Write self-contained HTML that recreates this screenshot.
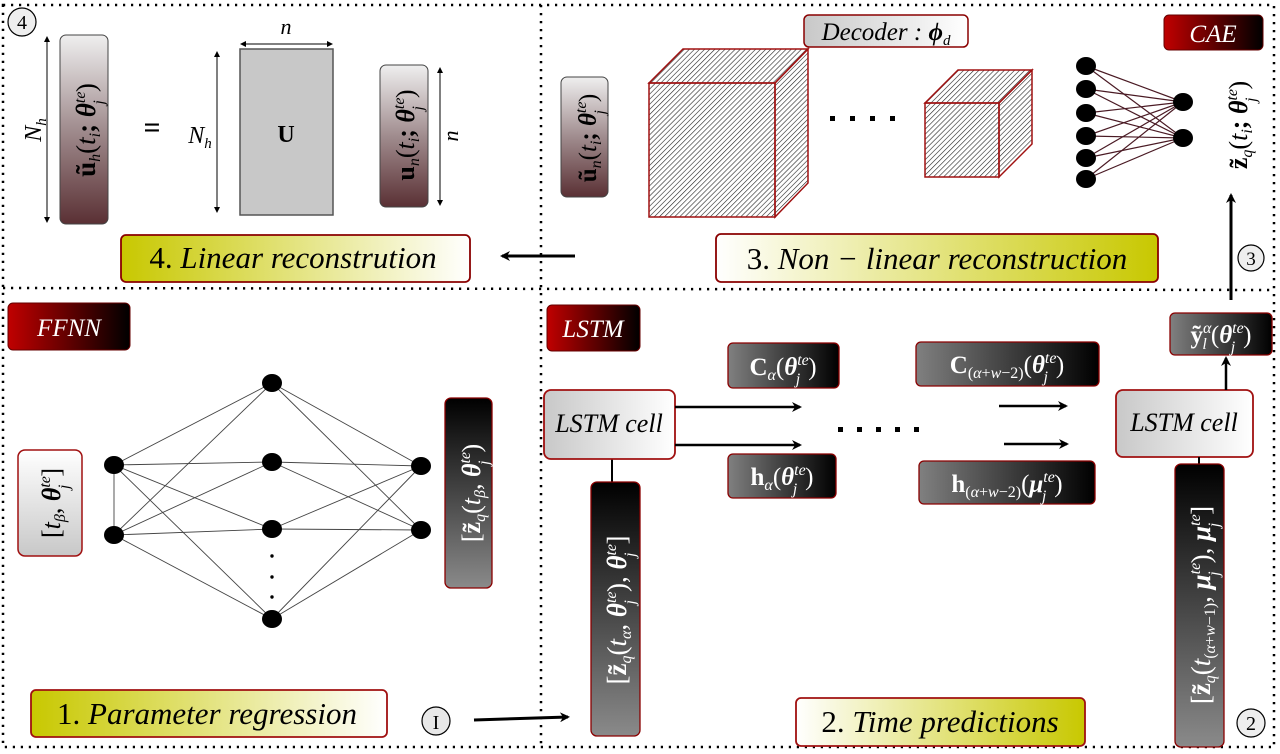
<!DOCTYPE html>
<html><head><meta charset="utf-8"><style>
html,body{margin:0;padding:0;background:#fff;}
svg{display:block;}
text{font-family:"Liberation Serif",serif;}
.it{font-style:italic;}
</style></head><body>
<svg width="1280" height="754" viewBox="0 0 1280 754" xmlns="http://www.w3.org/2000/svg">
<defs>
<linearGradient id="gb" x1="0" y1="0" x2="0" y2="1"><stop offset="0" stop-color="#efefef"/><stop offset="0.5" stop-color="#a08c8e"/><stop offset="1" stop-color="#5a3034"/></linearGradient>
<linearGradient id="dv" x1="0" y1="0" x2="0" y2="1"><stop offset="0" stop-color="#000"/><stop offset="1" stop-color="#8a8a8a"/></linearGradient>
<linearGradient id="dh" x1="0" y1="0" x2="1" y2="0"><stop offset="0" stop-color="#808080"/><stop offset="1" stop-color="#000"/></linearGradient>
<linearGradient id="rb" x1="0" y1="0" x2="1" y2="0"><stop offset="0" stop-color="#c00000"/><stop offset="1" stop-color="#000"/></linearGradient>
<linearGradient id="yw" x1="0" y1="0" x2="1" y2="0"><stop offset="0" stop-color="#c8c800"/><stop offset="1" stop-color="#fff"/></linearGradient>
<linearGradient id="wy" x1="0" y1="0" x2="1" y2="0"><stop offset="0" stop-color="#fff"/><stop offset="1" stop-color="#c8c800"/></linearGradient>
<linearGradient id="wg" x1="0" y1="0" x2="1" y2="0"><stop offset="0" stop-color="#c8c8c8"/><stop offset="1" stop-color="#fff"/></linearGradient>
<linearGradient id="wgv" x1="0" y1="0" x2="0" y2="1"><stop offset="0" stop-color="#fff"/><stop offset="1" stop-color="#c8c8c8"/></linearGradient>
<pattern id="hatch" width="3.6" height="3.6" patternUnits="userSpaceOnUse" patternTransform="rotate(45)"><line x1="0" y1="0" x2="0" y2="3.6" stroke="#222" stroke-width="1.2"/></pattern>
<marker id="ah" markerWidth="10" markerHeight="10" refX="8" refY="5" orient="auto" markerUnits="userSpaceOnUse"><path d="M0,0 L10,5 L0,10 L3,5 Z" fill="#000"/></marker>
<marker id="sa" markerWidth="6" markerHeight="6" refX="5" refY="3" orient="auto-start-reverse" markerUnits="userSpaceOnUse"><path d="M0,0 L6,3 L0,6 Z" fill="#000"/></marker>
</defs>

<!-- dotted panel borders -->
<g fill="none" stroke="#000" stroke-width="2.5" stroke-dasharray="2.2 5.8">
<rect x="3" y="5" width="1271" height="742"/>
<line x1="3" y1="288" x2="1274" y2="290"/>
<line x1="541" y1="5" x2="541" y2="747"/>
</g>

<!-- PANEL 4 -->
<circle cx="22" cy="22" r="14" fill="#eee" stroke="#000" stroke-width="1.2"/>
<text x="22" y="29" font-size="20" text-anchor="middle">4</text>
<line x1="47" y1="37" x2="47" y2="222" stroke="#000" marker-start="url(#sa)" marker-end="url(#sa)"/>
<text transform="translate(41,130) rotate(-90)" font-size="24" class="it" text-anchor="middle">N<tspan font-size="15" dy="5">h</tspan></text>
<rect x="60" y="35" width="48" height="189" rx="6" fill="url(#gb)" stroke="#444"/>
<text transform="translate(95,130) rotate(-90)" font-size="27" text-anchor="middle" font-weight="bold">ũ<tspan font-size="16" dy="5" font-weight="normal" class="it">h</tspan><tspan dy="-5" font-weight="normal">(</tspan><tspan class="it" font-weight="normal">t</tspan><tspan font-size="16" dy="5" font-weight="normal" class="it">i</tspan><tspan dy="-5">; </tspan><tspan class="it">θ</tspan><tspan font-size="16" dy="-10" class="it" font-weight="normal">te</tspan><tspan font-size="16" dx="-13" dy="19" class="it" font-weight="normal">j</tspan><tspan dy="-9" dx="8" font-weight="normal">)</tspan></text>
<text x="152" y="137" font-size="30" text-anchor="middle" font-weight="bold">=</text>
<text x="200" y="143" font-size="24" class="it" text-anchor="middle">N<tspan font-size="15" dy="5">h</tspan></text>
<line x1="217" y1="52" x2="217" y2="212" stroke="#000" marker-start="url(#sa)" marker-end="url(#sa)"/>
<rect x="240" y="49" width="93" height="166" fill="#c8c8c8" stroke="#555" stroke-width="1.5"/>
<text x="286" y="142" font-size="24" font-weight="bold" text-anchor="middle">U</text>
<line x1="241" y1="44" x2="332" y2="44" stroke="#000" marker-start="url(#sa)" marker-end="url(#sa)"/>
<text x="286" y="34" font-size="22" class="it" text-anchor="middle">n</text>
<rect x="380" y="65" width="48" height="142" rx="6" fill="url(#gb)" stroke="#444"/>
<text transform="translate(414,135) rotate(-90)" font-size="26" text-anchor="middle" font-weight="bold">u<tspan font-size="16" dy="5" font-weight="normal" class="it">n</tspan><tspan dy="-5" font-weight="normal">(</tspan><tspan class="it" font-weight="normal">t</tspan><tspan font-size="16" dy="5" font-weight="normal" class="it">i</tspan><tspan dy="-5">; </tspan><tspan class="it">θ</tspan><tspan font-size="16" dy="-10" class="it" font-weight="normal">te</tspan><tspan font-size="16" dx="-13" dy="19" class="it" font-weight="normal">j</tspan><tspan dy="-9" dx="8" font-weight="normal">)</tspan></text>
<line x1="440" y1="68" x2="440" y2="205" stroke="#000" marker-start="url(#sa)" marker-end="url(#sa)"/>
<text transform="translate(458,136) rotate(-90)" font-size="22" class="it" text-anchor="middle">n</text>
<rect x="121" y="235" width="349" height="47" rx="5" fill="url(#yw)" stroke="#8a0000" stroke-width="1.8"/>
<text x="293" y="268" font-size="31" text-anchor="middle">4. <tspan class="it">Linear reconstrution</tspan></text>
<line x1="575" y1="256" x2="502" y2="256" stroke="#000" stroke-width="3" marker-end="url(#ah)"/>

<!-- PANEL 3 -->
<rect x="561" y="77" width="47" height="120" rx="6" fill="url(#gb)" stroke="#444"/>
<text transform="translate(596,138) rotate(-90)" font-size="25" text-anchor="middle" font-weight="bold">ũ<tspan font-size="16" dy="5" font-weight="normal" class="it">n</tspan><tspan dy="-5" font-weight="normal">(</tspan><tspan class="it" font-weight="normal">t</tspan><tspan font-size="16" dy="5" font-weight="normal" class="it">i</tspan><tspan dy="-5">; </tspan><tspan class="it">θ</tspan><tspan font-size="16" dy="-10" class="it" font-weight="normal">te</tspan><tspan font-size="16" dx="-13" dy="19" class="it" font-weight="normal">j</tspan><tspan dy="-9" dx="8" font-weight="normal">)</tspan></text>
<rect x="804" y="15" width="164" height="32" rx="5" fill="url(#wg)" stroke="#8a0000" stroke-width="1.5"/>
<text x="886" y="40" font-size="25" text-anchor="middle" class="it">Decoder : <tspan font-weight="bold">ϕ</tspan><tspan font-size="15" dy="5">d</tspan></text>
<g fill="url(#hatch)" stroke="#a01010" stroke-width="1.5">
<polygon points="649,83 683,49 808,49 775,83"/>
<polygon points="775,83 808,49 808,183 775,217"/>
<rect x="649" y="83" width="126" height="134"/>
<polygon points="925,103 958,70 1032,70 999,103"/>
<polygon points="999,103 1032,70 1032,144 999,177"/>
<rect x="925" y="103" width="74" height="74"/>
</g>
<g fill="#000"><rect x="830" y="116" width="5" height="5"/><rect x="850" y="116" width="5" height="5"/><rect x="870" y="116" width="5" height="5"/><rect x="890" y="116" width="5" height="5"/></g>
<g stroke="#4a1a24" stroke-width="1.2">
<line x1="1086" y1="66" x2="1183" y2="102"/><line x1="1086" y1="66" x2="1183" y2="138"/>
<line x1="1086" y1="89" x2="1183" y2="102"/><line x1="1086" y1="89" x2="1183" y2="138"/>
<line x1="1086" y1="113" x2="1183" y2="102"/><line x1="1086" y1="113" x2="1183" y2="138"/>
<line x1="1086" y1="136" x2="1183" y2="102"/><line x1="1086" y1="136" x2="1183" y2="138"/>
<line x1="1086" y1="158" x2="1183" y2="102"/><line x1="1086" y1="158" x2="1183" y2="138"/>
<line x1="1086" y1="179" x2="1183" y2="102"/><line x1="1086" y1="179" x2="1183" y2="138"/>
</g>
<g fill="#000">
<ellipse cx="1086" cy="66" rx="10" ry="9"/><ellipse cx="1086" cy="89" rx="10" ry="9"/><ellipse cx="1086" cy="113" rx="10" ry="9"/>
<ellipse cx="1086" cy="136" rx="10" ry="9"/><ellipse cx="1086" cy="158" rx="10" ry="9"/><ellipse cx="1086" cy="179" rx="10" ry="9"/>
<ellipse cx="1183" cy="102" rx="10" ry="9"/><ellipse cx="1183" cy="138" rx="10" ry="9"/>
</g>
<rect x="1164" y="15" width="99" height="35" rx="5" fill="url(#rb)" stroke="#600"/>
<text x="1213" y="42" font-size="25" class="it" fill="#fff" text-anchor="middle">CAE</text>
<text transform="translate(1247,125) rotate(-90)" font-size="26" text-anchor="middle" font-weight="bold">z̃<tspan font-size="16" dy="5" font-weight="normal" class="it">q</tspan><tspan dy="-5" font-weight="normal">(</tspan><tspan class="it" font-weight="normal">t</tspan><tspan font-size="16" dy="5" font-weight="normal" class="it">i</tspan><tspan dy="-5">; </tspan><tspan class="it">θ</tspan><tspan font-size="16" dy="-10" class="it" font-weight="normal">te</tspan><tspan font-size="16" dx="-13" dy="19" class="it" font-weight="normal">j</tspan><tspan dy="-9" dx="8" font-weight="normal">)</tspan></text>
<line x1="1231" y1="300" x2="1231" y2="195" stroke="#000" stroke-width="3" marker-end="url(#ah)"/>
<circle cx="1251" cy="258" r="13" fill="#eee" stroke="#000" stroke-width="1.2"/>
<text x="1251" y="265" font-size="19" text-anchor="middle">3</text>
<rect x="716" y="234" width="442" height="48" rx="5" fill="url(#wy)" stroke="#8a0000" stroke-width="1.8"/>
<text x="937" y="269" font-size="31" text-anchor="middle">3. <tspan class="it">Non − linear reconstruction</tspan></text>

<!-- PANEL 1 FFNN -->
<rect x="8" y="303" width="122" height="47" rx="5" fill="url(#rb)" stroke="#600"/>
<text x="69" y="336" font-size="25" class="it" fill="#fff" text-anchor="middle">FFNN</text>
<rect x="18" y="450" width="64" height="106" rx="7" fill="url(#wgv)" stroke="#a01010" stroke-width="1.5"/>
<text transform="translate(60,503) rotate(-90)" font-size="26" text-anchor="middle">[<tspan class="it">t</tspan><tspan font-size="16" dy="5" class="it">β</tspan><tspan dy="-5">, </tspan><tspan class="it" font-weight="bold">θ</tspan><tspan font-size="16" dy="-10" class="it">te</tspan><tspan font-size="16" dx="-13" dy="19" class="it">j</tspan><tspan dy="-9" dx="8">]</tspan></text>
<g stroke="#444" stroke-width="0.9">
<line x1="114" y1="465" x2="114" y2="535"/>
<line x1="114" y1="465" x2="272" y2="383"/><line x1="114" y1="465" x2="272" y2="462"/><line x1="114" y1="465" x2="272" y2="529"/><line x1="114" y1="465" x2="272" y2="619"/>
<line x1="114" y1="535" x2="272" y2="383"/><line x1="114" y1="535" x2="272" y2="462"/><line x1="114" y1="535" x2="272" y2="529"/><line x1="114" y1="535" x2="272" y2="619"/>
<line x1="272" y1="383" x2="421" y2="466"/><line x1="272" y1="383" x2="421" y2="530"/>
<line x1="272" y1="462" x2="421" y2="466"/><line x1="272" y1="462" x2="421" y2="530"/>
<line x1="272" y1="529" x2="421" y2="466"/><line x1="272" y1="529" x2="421" y2="530"/>
<line x1="272" y1="619" x2="421" y2="466"/><line x1="272" y1="619" x2="421" y2="530"/>
</g>
<g fill="#000">
<ellipse cx="114" cy="465" rx="10" ry="9"/><ellipse cx="114" cy="535" rx="10" ry="9"/>
<ellipse cx="272" cy="383" rx="10" ry="9"/><ellipse cx="272" cy="462" rx="10" ry="9"/><ellipse cx="272" cy="529" rx="10" ry="9"/><ellipse cx="272" cy="619" rx="10" ry="9"/>
<ellipse cx="421" cy="466" rx="10" ry="9"/><ellipse cx="421" cy="530" rx="10" ry="9"/>
<circle cx="272" cy="556" r="1.7"/><circle cx="272" cy="577" r="1.7"/><circle cx="272" cy="597" r="1.7"/>
</g>
<rect x="445" y="398" width="47" height="190" rx="6" fill="url(#dv)" stroke="#8a0000" stroke-width="1.3"/>
<text transform="translate(480,493) rotate(-90)" font-size="26" text-anchor="middle" fill="#fff">[<tspan font-weight="bold">z̃</tspan><tspan font-size="16" dy="5" class="it">q</tspan><tspan dy="-5">(</tspan><tspan class="it">t</tspan><tspan font-size="16" dy="5" class="it">β</tspan><tspan dy="-5">, </tspan><tspan class="it" font-weight="bold">θ</tspan><tspan font-size="16" dy="-10" class="it">te</tspan><tspan font-size="16" dx="-13" dy="19" class="it">j</tspan><tspan dy="-9" dx="8">)</tspan></text>
<rect x="31" y="690" width="356" height="47" rx="5" fill="url(#yw)" stroke="#a01010" stroke-width="1.8"/>
<text x="207" y="724" font-size="31" text-anchor="middle">1. <tspan class="it">Parameter regression</tspan></text>
<circle cx="436" cy="721" r="14" fill="#e8e8e8" stroke="#000" stroke-width="1.2"/>
<text x="436" y="729" font-size="20" text-anchor="middle">I</text>
<line x1="474" y1="720" x2="568" y2="717" stroke="#000" stroke-width="3" marker-end="url(#ah)"/>

<!-- PANEL 2 LSTM -->
<rect x="547" y="305" width="93" height="46" rx="5" fill="url(#rb)" stroke="#600"/>
<text x="593" y="337" font-size="25" class="it" fill="#fff" text-anchor="middle">LSTM</text>
<line x1="612" y1="459" x2="612" y2="482" stroke="#000" stroke-width="2"/>
<rect x="544" y="390" width="131" height="69" rx="7" fill="url(#wg)" stroke="#a01010" stroke-width="1.8"/>
<text x="609" y="432" font-size="26" class="it" text-anchor="middle">LSTM cell</text>
<line x1="675" y1="407" x2="800" y2="407" stroke="#000" stroke-width="2.5" marker-end="url(#ah)"/>
<line x1="675" y1="445" x2="800" y2="445" stroke="#000" stroke-width="2.5" marker-end="url(#ah)"/>
<line x1="999" y1="406" x2="1066" y2="406" stroke="#000" stroke-width="2.5" marker-end="url(#ah)"/>
<line x1="1004" y1="444" x2="1067" y2="444" stroke="#000" stroke-width="2.5" marker-end="url(#ah)"/>
<g fill="#000"><rect x="838" y="427" width="5" height="5"/><rect x="857" y="427" width="5" height="5"/><rect x="876" y="427" width="5" height="5"/><rect x="895" y="427" width="5" height="5"/><rect x="914" y="427" width="5" height="5"/></g>
<rect x="728" y="343" width="111" height="45" rx="5" fill="url(#dh)" stroke="#8a0000" stroke-width="1.3"/>
<text x="783" y="375" font-size="25" fill="#fff" text-anchor="middle"><tspan font-weight="bold">C</tspan><tspan font-size="16" dy="5" class="it">α</tspan><tspan dy="-5">(</tspan><tspan class="it" font-weight="bold">θ</tspan><tspan font-size="16" dy="-10" class="it">te</tspan><tspan font-size="16" dx="-13" dy="19" class="it">j</tspan><tspan dy="-9" dx="8">)</tspan></text>
<rect x="728" y="454" width="108" height="44" rx="5" fill="url(#dh)" stroke="#8a0000" stroke-width="1.3"/>
<text x="782" y="485" font-size="25" fill="#fff" text-anchor="middle"><tspan font-weight="bold">h</tspan><tspan font-size="16" dy="5" class="it">α</tspan><tspan dy="-5">(</tspan><tspan class="it" font-weight="bold">θ</tspan><tspan font-size="16" dy="-10" class="it">te</tspan><tspan font-size="16" dx="-13" dy="19" class="it">j</tspan><tspan dy="-9" dx="8">)</tspan></text>
<rect x="916" y="342" width="183" height="44" rx="5" fill="url(#dh)" stroke="#8a0000" stroke-width="1.3"/>
<text x="1007" y="373" font-size="25" fill="#fff" text-anchor="middle"><tspan font-weight="bold">C</tspan><tspan font-size="16" dy="5">(<tspan class="it">α</tspan>+<tspan class="it">w</tspan>−2)</tspan><tspan dy="-5">(</tspan><tspan class="it" font-weight="bold">θ</tspan><tspan font-size="16" dy="-10" class="it">te</tspan><tspan font-size="16" dx="-13" dy="19" class="it">j</tspan><tspan dy="-9" dx="8">)</tspan></text>
<rect x="919" y="461" width="176" height="43" rx="5" fill="url(#dh)" stroke="#8a0000" stroke-width="1.3"/>
<text x="1007" y="492" font-size="25" fill="#fff" text-anchor="middle"><tspan font-weight="bold">h</tspan><tspan font-size="16" dy="5">(<tspan class="it">α</tspan>+<tspan class="it">w</tspan>−2)</tspan><tspan dy="-5">(</tspan><tspan class="it" font-weight="bold">μ</tspan><tspan font-size="16" dy="-10" class="it">te</tspan><tspan font-size="16" dx="-13" dy="19" class="it">j</tspan><tspan dy="-9" dx="8">)</tspan></text>
<rect x="1116" y="390" width="137" height="67" rx="7" fill="url(#wg)" stroke="#a01010" stroke-width="1.8"/>
<text x="1184" y="431" font-size="26" class="it" text-anchor="middle">LSTM cell</text>
<line x1="1226" y1="390" x2="1226" y2="358" stroke="#000" stroke-width="2.5" marker-end="url(#ah)"/>
<rect x="1170" y="313" width="102" height="42" rx="5" fill="url(#dh)" stroke="#8a0000" stroke-width="1.3"/>
<text x="1221" y="343" font-size="25" fill="#fff" text-anchor="middle"><tspan font-weight="bold">ỹ</tspan><tspan font-size="16" dy="-10" class="it">α</tspan><tspan font-size="16" dx="-9" dy="16" class="it">l</tspan><tspan dy="-6" dx="4">(</tspan><tspan class="it" font-weight="bold">θ</tspan><tspan font-size="16" dy="-10" class="it">te</tspan><tspan font-size="16" dx="-13" dy="19" class="it">j</tspan><tspan dy="-9" dx="8">)</tspan></text>
<rect x="591" y="482" width="49" height="254" rx="6" fill="url(#dv)" stroke="#8a0000" stroke-width="1.3"/>
<text transform="translate(626,610) rotate(-90)" font-size="27" text-anchor="middle" fill="#fff">[<tspan font-weight="bold">z̃</tspan><tspan font-size="16" dy="5" class="it">q</tspan><tspan dy="-5">(</tspan><tspan class="it">t</tspan><tspan font-size="16" dy="5" class="it">α</tspan><tspan dy="-5">, </tspan><tspan class="it" font-weight="bold">θ</tspan><tspan font-size="16" dy="-10" class="it">te</tspan><tspan font-size="16" dx="-13" dy="19" class="it">j</tspan><tspan dy="-9" dx="8">), </tspan><tspan class="it" font-weight="bold">θ</tspan><tspan font-size="16" dy="-10" class="it">te</tspan><tspan font-size="16" dx="-13" dy="19" class="it">j</tspan><tspan dy="-9" dx="8">]</tspan></text>
<line x1="1199" y1="457" x2="1199" y2="464" stroke="#000" stroke-width="2"/>
<rect x="1175" y="464" width="49" height="283" rx="6" fill="url(#dv)" stroke="#8a0000" stroke-width="1.3"/>
<text transform="translate(1210,605) rotate(-90)" font-size="27" text-anchor="middle" fill="#fff">[<tspan font-weight="bold">z̃</tspan><tspan font-size="16" dy="5" class="it">q</tspan><tspan dy="-5">(</tspan><tspan class="it">t</tspan><tspan font-size="16" dy="5">(<tspan class="it">α</tspan>+<tspan class="it">w</tspan>−1)</tspan><tspan dy="-5">, </tspan><tspan class="it" font-weight="bold">μ</tspan><tspan font-size="16" dy="-10" class="it">te</tspan><tspan font-size="16" dx="-13" dy="19" class="it">j</tspan><tspan dy="-9" dx="8">), </tspan><tspan class="it" font-weight="bold">μ</tspan><tspan font-size="16" dy="-10" class="it">te</tspan><tspan font-size="16" dx="-13" dy="19" class="it">j</tspan><tspan dy="-9" dx="8">]</tspan></text>
<rect x="796" y="698" width="289" height="48" rx="5" fill="url(#wy)" stroke="#a01010" stroke-width="1.8"/>
<text x="940" y="732" font-size="31" text-anchor="middle">2. <tspan class="it">Time predictions</tspan></text>
<circle cx="1251" cy="723" r="14" fill="#eee" stroke="#000" stroke-width="1.2"/>
<text x="1251" y="730" font-size="20" text-anchor="middle">2</text>
</svg>
</body></html>
